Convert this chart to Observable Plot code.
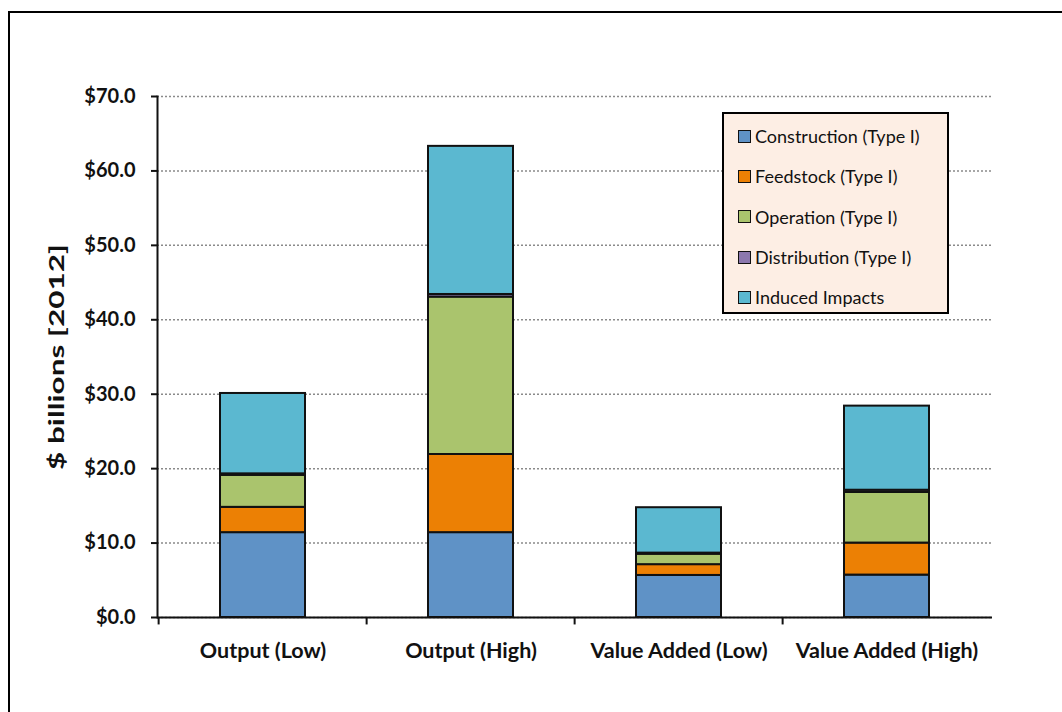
<!DOCTYPE html>
<html>
<head>
<meta charset="utf-8">
<script src="https://cdn.jsdelivr.net/npm/d3@7"></script>
<script src="https://cdn.jsdelivr.net/npm/@observablehq/plot@0.6"></script>
<style>
  html, body { margin: 0; padding: 0; background: #fff; overflow: hidden; }
  #wrap { position: relative; width: 1062px; height: 712px; font-family: Lato, "Open Sans", sans-serif; }
  #outer { position: absolute; left: 8px; top: 11px; width: 1100px; height: 760px; border: 2px solid #000; box-sizing: border-box; pointer-events: none; }
  #chart { position: absolute; left: 0; top: 0; }
  #legend { position: absolute; left: 722px; top: 112px; width: 227px; height: 202px; box-sizing: border-box;
            background: #FDEEE4; border: 2px solid #000; padding-top: 2px; }
  .item { display: flex; align-items: center; height: 40.3px; padding-left: 14px; font-size: 18px; color: #111; white-space: nowrap; }
  .sw { width: 11px; height: 11px; border: 1.5px solid #111; margin-right: 4px; box-sizing: content-box; flex: none; }
</style>
</head>
<body>
<div id="wrap">
  <div id="chart"></div>
  <div id="outer"></div>
  <div id="legend"></div>
</div>
<script>
const categories = ["Output (Low)", "Output (High)", "Value Added (Low)", "Value Added (High)"];
const seriesNames = ["Construction (Type I)", "Feedstock (Type I)", "Operation (Type I)", "Distribution (Type I)", "Induced Impacts"];
const construction = [11.4, 11.4, 5.65, 5.7];
const feedstock    = [3.4, 10.5, 1.45, 4.3];
const operation    = [4.3, 21.15, 1.4, 6.8];
const distribution = [0.2, 0.35, 0.15, 0.3];
const induced      = [10.8, 19.9, 6.1, 11.3];
const seriesColors = ["#5F92C6", "#EC8004", "#AAC46D", "#8C78AE", "#5BB8D0"];
const yTicks = [0, 10, 20, 30, 40, 50, 60, 70];
const yLabel = "$ billions [2012]";

const seriesValues = [construction, feedstock, operation, distribution, induced];
const data = [];
categories.forEach((c, i) => {
  seriesNames.forEach((s, j) => data.push({category: c, series: s, value: seriesValues[j][i]}));
});

const W = 1062, H = 712;
const mL = 157, mR = 70, mT = 96, mB = 95;
const step = (W - mL - mR) / categories.length;

const chart = Plot.plot({
  width: W, height: H,
  marginLeft: mL, marginRight: mR, marginTop: mT, marginBottom: mB,
  style: {fontFamily: "Lato, 'Open Sans', sans-serif", background: "transparent", overflow: "visible"},
  x: {domain: categories, paddingInner: 0.59, paddingOuter: 0.295},
  y: {domain: [0, 70]},
  color: {domain: seriesNames, range: seriesColors},
  marks: [
    Plot.gridY(yTicks, {stroke: "#8a8a8a", strokeOpacity: 1, strokeDasharray: "2,2", strokeWidth: 1.5}),
    Plot.barY(data, Plot.stackY({x: "category", y: "value", fill: "series", order: seriesNames, stroke: "#111", strokeWidth: 2})),
    Plot.ruleY([0], {stroke: "#111", strokeWidth: 2}),
    Plot.frame({anchor: "left", stroke: "#111", strokeWidth: 2}),
    Plot.ruleX(categories, {x: d => d, dx: -step / 2, y1: 0, y2: -1.0, stroke: "#111", strokeWidth: 2, clip: false}),
    Plot.axisY(yTicks, {
      tickSize: 6, tickPadding: 16, stroke: "#111", strokeWidth: 2,
      tickFormat: d => "$" + d.toFixed(1), fontSize: 20, fontWeight: "bold", fill: "#111",
      label: null
    }),
    Plot.axisX({tickSize: 0, tickPadding: 25, fontSize: 21.5, fontWeight: "bold", fill: "#111", label: null}),
    Plot.text([yLabel], {frameAnchor: "left", text: d => d, rotate: -90, dx: -100, textAnchor: "middle", fontSize: 20, fontWeight: "bold", fill: "#111"})
  ]
});
document.getElementById("chart").appendChild(chart);

// stretch the y label along its length like the reference
chart.querySelectorAll("text").forEach(t => {
  if (t.textContent === yLabel) {
    t.setAttribute("textLength", "226");
    t.setAttribute("lengthAdjust", "spacingAndGlyphs");
  }
});

const legend = document.getElementById("legend");
seriesNames.forEach((s, j) => {
  const it = document.createElement("div");
  it.className = "item";
  const sw = document.createElement("span");
  sw.className = "sw";
  sw.style.background = seriesColors[j];
  const tx = document.createElement("span");
  tx.textContent = s;
  it.appendChild(sw); it.appendChild(tx);
  legend.appendChild(it);
});
</script>
</body>
</html>
